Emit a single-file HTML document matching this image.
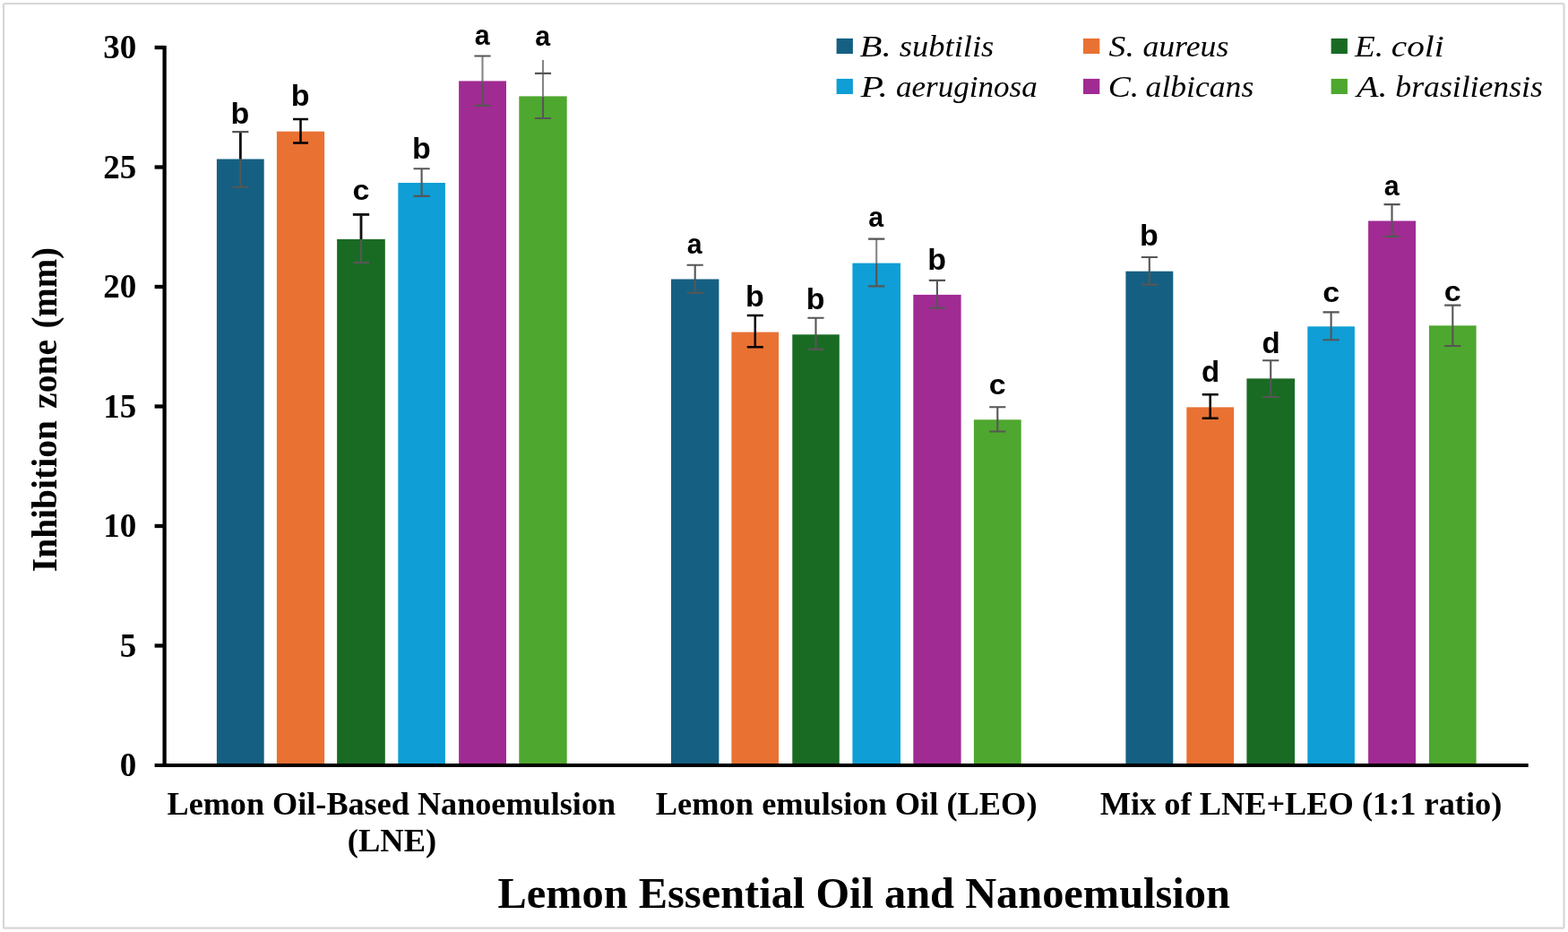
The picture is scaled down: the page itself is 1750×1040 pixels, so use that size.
<!DOCTYPE html>
<html lang="en">
<head>
<meta charset="utf-8">
<title>Inhibition zone of Lemon Essential Oil and Nanoemulsion</title>
<style>
html,body{margin:0;padding:0;background:#fff;}
body{width:1750px;height:1040px;overflow:hidden;position:relative;}
svg{position:absolute;left:0;top:0;display:block;}
.serifb{font-family:"Liberation Serif",serif;font-weight:bold;fill:#000;}
.serifi{font-family:"Liberation Serif",serif;font-style:italic;fill:#000;}
.sansb{font-family:"Liberation Sans",sans-serif;font-weight:bold;fill:#000;}
</style>
</head>
<body>
<svg width="1750" height="1040" viewBox="0 0 1750 1040" role="img" aria-label="Bar chart of inhibition zone (mm) for lemon essential oil and nanoemulsion">
<rect x="0" y="0" width="1750" height="1040" fill="#ffffff"/>
<!-- chart frame -->
<rect x="4" y="4" width="1741.5" height="1031.7" rx="1.5" fill="none" stroke="#d6d6d6" stroke-width="2.2"/>

<!-- bars -->
<g>
<rect x="241.9" y="177.5" width="52.8" height="676.5" fill="#156082"/>
<rect x="308.9" y="146.7" width="53.2" height="707.3" fill="#E97132"/>
<rect x="376.1" y="266.9" width="53.7" height="587.1" fill="#196B24"/>
<rect x="444.3" y="204.0" width="52.6" height="650.0" fill="#0F9ED5"/>
<rect x="512.1" y="90.4" width="52.9" height="763.6" fill="#A02B93"/>
<rect x="579.3" y="107.4" width="53.4" height="746.6" fill="#4EA72E"/>
<rect x="749.0" y="311.5" width="53.4" height="542.5" fill="#156082"/>
<rect x="816.4" y="370.6" width="52.7" height="483.4" fill="#E97132"/>
<rect x="884.3" y="373.3" width="52.5" height="480.7" fill="#196B24"/>
<rect x="951.4" y="293.6" width="53.6" height="560.4" fill="#0F9ED5"/>
<rect x="1019.3" y="328.9" width="53.3" height="525.1" fill="#A02B93"/>
<rect x="1086.9" y="468.3" width="52.8" height="385.7" fill="#4EA72E"/>
<rect x="1256.4" y="302.7" width="52.9" height="551.3" fill="#156082"/>
<rect x="1324.3" y="454.4" width="52.8" height="399.6" fill="#E97132"/>
<rect x="1391.4" y="422.4" width="53.6" height="431.6" fill="#196B24"/>
<rect x="1459.3" y="364.3" width="52.6" height="489.7" fill="#0F9ED5"/>
<rect x="1527.1" y="246.5" width="52.9" height="607.5" fill="#A02B93"/>
<rect x="1595.0" y="363.3" width="52.6" height="490.7" fill="#4EA72E"/>
</g>
<!-- error bars -->
<g fill="none">
<path d="M268.3 147.1V208.7M259.2 147.1H277.4M259.2 208.7H277.4" stroke="#565656" stroke-width="2.1"/>
<path d="M268.3 148.1V177.5" stroke="#111" stroke-width="2.8"/>
<path d="M335.5 133.0V159.5M327.0 133.0H344.0M327.0 159.5H344.0" stroke="#000000" stroke-width="2.5"/>
<path d="M403.0 239.4V293.1M393.9 239.4H412.1M393.9 293.1H412.1" stroke="#565656" stroke-width="2.1"/>
<path d="M403.0 239.4V266.9M393.9 239.4H412.1" stroke="#111" stroke-width="2.8"/>
<path d="M470.6 188.3V218.9M461.5 188.3H479.7M461.5 218.9H479.7" stroke="#565656" stroke-width="2.1"/>
<path d="M538.5 62.5V90.4" stroke="#858585" stroke-width="2.1"/>
<path d="M538.5 90.4V117.9M529.4 62.5H547.6M529.4 117.9H547.6" stroke="#565656" stroke-width="2.1"/>
<path d="M606.0 66.9V107.4" stroke="#858585" stroke-width="2.1"/>
<path d="M606.0 107.4V132.0M596.9 81.9H615.1M596.9 132.0H615.1" stroke="#565656" stroke-width="2.1"/>
<path d="M775.7 295.8V326.8M766.6 295.8H784.8M766.6 326.8H784.8" stroke="#565656" stroke-width="2.1"/>
<path d="M842.8 352.0V387.3M833.8 352.0H851.8M833.8 387.3H851.8" stroke="#000000" stroke-width="2.5"/>
<path d="M910.5 354.7V389.9M901.4 354.7H919.6M901.4 389.9H919.6" stroke="#565656" stroke-width="2.1"/>
<path d="M978.2 266.6V293.6" stroke="#858585" stroke-width="2.1"/>
<path d="M978.2 293.6V319.4M969.1 266.6H987.3M969.1 319.4H987.3" stroke="#565656" stroke-width="2.1"/>
<path d="M1045.9 312.9V343.7M1036.8 312.9H1055.0M1036.8 343.7H1055.0" stroke="#565656" stroke-width="2.1"/>
<path d="M1113.3 454.3V481.5M1104.2 454.3H1122.4M1104.2 481.5H1122.4" stroke="#565656" stroke-width="2.1"/>
<path d="M1282.8 287.0V317.6M1273.8 287.0H1291.9M1273.8 317.6H1291.9" stroke="#565656" stroke-width="2.1"/>
<path d="M1350.7 440.3V466.8M1341.7 440.3H1359.7M1341.7 466.8H1359.7" stroke="#000000" stroke-width="2.5"/>
<path d="M1418.2 402.2V443.0M1409.1 402.2H1427.3M1409.1 443.0H1427.3" stroke="#565656" stroke-width="2.1"/>
<path d="M1485.6 348.4V379.3M1476.5 348.4H1494.7M1476.5 379.3H1494.7" stroke="#565656" stroke-width="2.1"/>
<path d="M1553.5 228.1V263.9M1544.5 228.1H1562.6M1544.5 263.9H1562.6" stroke="#565656" stroke-width="2.1"/>
<path d="M1621.3 340.6V386.0M1612.2 340.6H1630.4M1612.2 386.0H1630.4" stroke="#565656" stroke-width="2.1"/>
</g>
<!-- axes -->
<g stroke="#000" fill="none">
<path d="M183.6 50.9V855.9" stroke-width="4.3"/>
<path d="M172.6 854.0H1705.7" stroke-width="3.9"/>
<path d="M172.6 720.5H184" stroke-width="4.3"/>
<path d="M172.6 587.0H184" stroke-width="4.3"/>
<path d="M172.6 453.5H184" stroke-width="4.3"/>
<path d="M172.6 320.0H184" stroke-width="4.3"/>
<path d="M172.6 186.5H184" stroke-width="4.3"/>
<path d="M172.6 53.0H184" stroke-width="4.3"/>
</g>
<!-- y tick labels -->
<g class="serifb" font-size="37" text-anchor="end">
<text x="152.3" y="866.2">0</text>
<text x="152.3" y="732.7">5</text>
<text x="152.3" y="599.2">10</text>
<text x="152.3" y="465.7">15</text>
<text x="152.3" y="332.2">20</text>
<text x="152.3" y="198.7">25</text>
<text x="152.3" y="65.2">30</text>
</g>
<g class="serifb" font-size="40">
<text transform="translate(63.2 638.2) rotate(-90) scale(0.988 1)">Inhibition</text>
<text transform="translate(63.2 455.9) rotate(-90) scale(0.99 1)">zone</text>
<text transform="translate(63.2 366.6) rotate(-90) scale(0.972 1)">(mm)</text>
</g>
<!-- category labels -->
<g class="serifb" font-size="36.5" text-anchor="middle">
<text x="436.8" y="908.5" textLength="500.6" lengthAdjust="spacingAndGlyphs">Lemon Oil-Based Nanoemulsion</text>
<text x="437.5" y="950.3">(LNE)</text>
<text x="944.7" y="908.5" textLength="425.7" lengthAdjust="spacingAndGlyphs">Lemon emulsion Oil (LEO)</text>
<text x="1452.0" y="908.5" textLength="448.7" lengthAdjust="spacingAndGlyphs">Mix of LNE+LEO (1:1 ratio)</text>
</g>
<text class="serifb" font-size="48.4" text-anchor="middle" x="964.2" y="1012.7">Lemon Essential Oil and Nanoemulsion</text>
<!-- legend -->
<g>
<rect x="933.6" y="42.9" width="18.3" height="17.1" fill="#156082"/>
<rect x="1209.0" y="42.9" width="18.3" height="17.1" fill="#E97132"/>
<rect x="1485.6" y="42.9" width="18.3" height="17.1" fill="#196B24"/>
<rect x="933.6" y="87.9" width="18.3" height="17.1" fill="#0F9ED5"/>
<rect x="1209.0" y="87.9" width="18.3" height="17.1" fill="#A02B93"/>
<rect x="1485.6" y="87.9" width="18.3" height="17.1" fill="#4EA72E"/>
</g>
<g class="serifi" font-size="34.6">
<text y="63.2"><tspan x="959.5" textLength="35.2" lengthAdjust="spacingAndGlyphs">B.</tspan> <tspan x="1003.8" textLength="105.5" lengthAdjust="spacingAndGlyphs">subtilis</tspan></text>
<text y="63.2"><tspan x="1237.6" textLength="28.2" lengthAdjust="spacingAndGlyphs">S.</tspan> <tspan x="1275.4" textLength="95.9" lengthAdjust="spacingAndGlyphs">aureus</tspan></text>
<text y="63.2"><tspan x="1512.1" textLength="32.1" lengthAdjust="spacingAndGlyphs">E.</tspan> <tspan x="1552.8" textLength="58.9" lengthAdjust="spacingAndGlyphs">coli</tspan></text>
<text y="108.3"><tspan x="960.5" textLength="30.5" lengthAdjust="spacingAndGlyphs">P.</tspan> <tspan x="999.9" textLength="157.8" lengthAdjust="spacingAndGlyphs">aeruginosa</tspan></text>
<text y="108.3"><tspan x="1236.7" textLength="34.4" lengthAdjust="spacingAndGlyphs">C.</tspan> <tspan x="1278.6" textLength="120.7" lengthAdjust="spacingAndGlyphs">albicans</tspan></text>
<text y="108.3"><tspan x="1514.3" textLength="34.3" lengthAdjust="spacingAndGlyphs">A.</tspan> <tspan x="1557.3" textLength="164.6" lengthAdjust="spacingAndGlyphs">brasiliensis</tspan></text>
</g>
<!-- significance letters -->
<g class="sansb" font-size="33" text-anchor="middle">
<text transform="translate(268.0 137.5) scale(1.03 1.01)">b</text>
<text transform="translate(335.2 118.3) scale(1.03 1.01)">b</text>
<text transform="translate(403.0 222.5) scale(1.03 0.965)">c</text>
<text transform="translate(470.3 176.6) scale(1.03 1.01)">b</text>
<text transform="translate(538.1 50.0) scale(0.92 0.975)">a</text>
<text transform="translate(605.6 50.7) scale(0.92 0.975)">a</text>
<text transform="translate(775.3 283.2) scale(0.92 0.975)">a</text>
<text transform="translate(842.5 341.8) scale(1.03 1.01)">b</text>
<text transform="translate(910.2 344.5) scale(1.03 1.01)">b</text>
<text transform="translate(977.8 253.2) scale(0.92 0.975)">a</text>
<text transform="translate(1045.6 300.8) scale(1.03 1.01)">b</text>
<text transform="translate(1113.3 439.9) scale(1.03 0.965)">c</text>
<text transform="translate(1282.5 274.2) scale(1.03 1.01)">b</text>
<text transform="translate(1351.0 425.6) scale(1.0 1.01)">d</text>
<text transform="translate(1418.5 394.3) scale(1.0 1.01)">d</text>
<text transform="translate(1485.6 336.5) scale(1.03 0.965)">c</text>
<text transform="translate(1553.1 218.2) scale(0.92 0.975)">a</text>
<text transform="translate(1621.3 335.6) scale(1.03 0.965)">c</text>
</g>
</svg>
</body>
</html>
